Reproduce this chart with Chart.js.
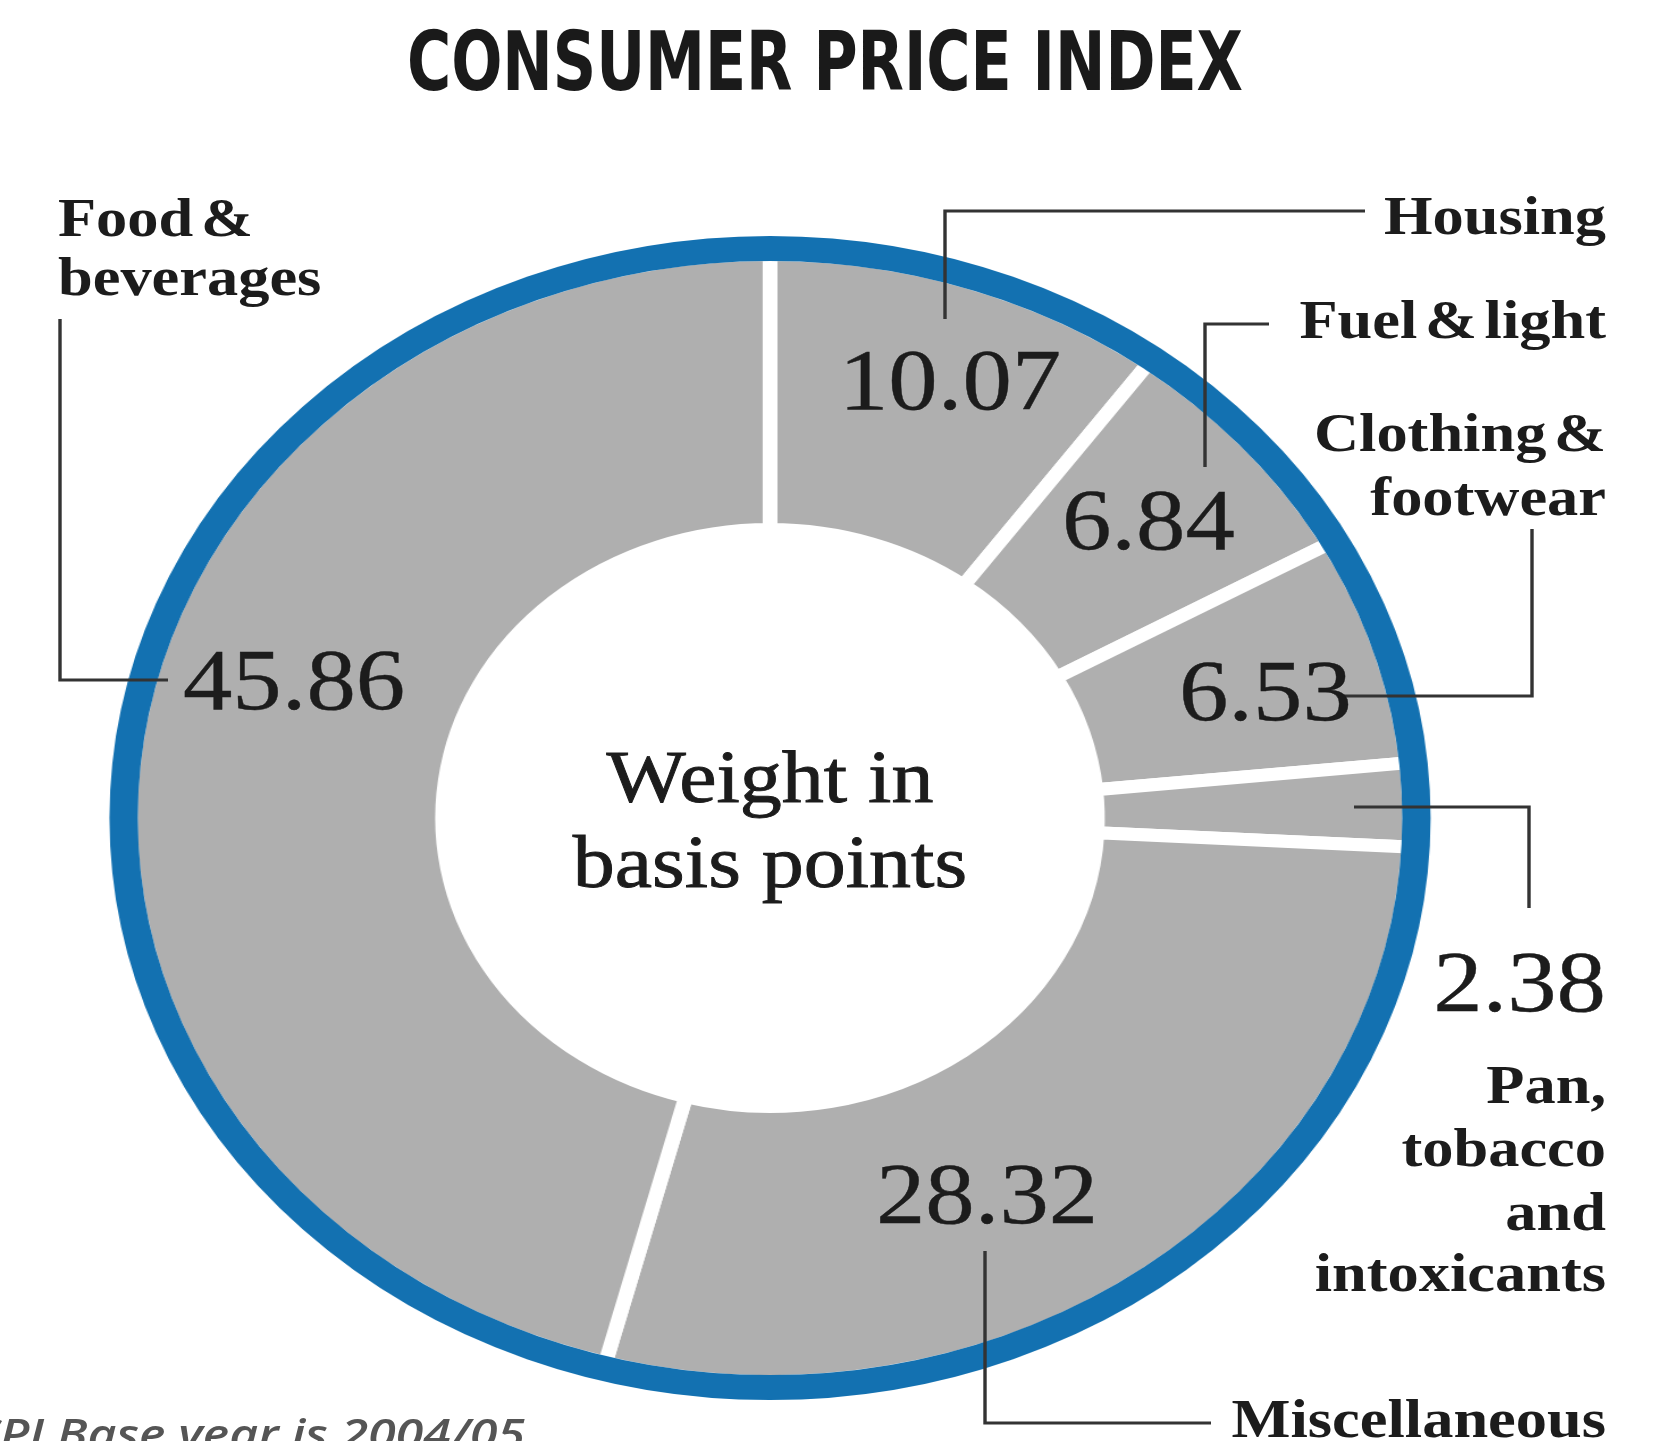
<!DOCTYPE html>
<html>
<head>
<meta charset="utf-8">
<script src="https://cdn.jsdelivr.net/npm/chart.js@4.4.0/dist/chart.umd.min.js"></script>
<style>
  html, body { margin:0; padding:0; background:#ffffff; width:1665px; height:1441px; overflow:hidden; }
  #wrap { position:absolute; left:0; top:0; height:1441px; transform-origin:0 0; }
  #c { position:absolute; left:0; top:0; }
  #ov { position:absolute; left:0; top:0; overflow:visible; }
</style>
</head>
<body>
<div id="wrap"><canvas id="c"></canvas><svg id="ov" xmlns="http://www.w3.org/2000/svg"></svg></div>
<script>
// ---------------- data ----------------
const categories = ['Housing', 'Fuel & light', 'Clothing & footwear', 'Pan, tobacco and intoxicants', 'Miscellaneous', 'Food & beverages'];
const weights = [10.07, 6.84, 6.53, 2.38, 28.32, 45.86];
const categoryLines = [['Housing'], ['Fuel & light'], ['Clothing &', 'footwear'], ['Pan,', 'tobacco', 'and', 'intoxicants'], ['Miscellaneous'], ['Food &', 'beverages']];
const titleText = 'CONSUMER PRICE INDEX';
const centerLines = ['Weight in', 'basis points'];
const footnote = 'CPI Base year is 2004/05';

// ---------------- layout (page pixels) ----------------
const K = 1.135;                 // horizontal stretch of the original artwork
const H = 1441;
const W = Math.round(1665 / K);
const CX = 770, CY = 818;        // doughnut centre
const R_GRAY = 557, R_HOLE = 295, RING_W = 25, GAP = 13;
const BLUE = '#1371b1', GRAY = '#afafaf', INK = '#1c1c1c', LINE = '#333333';

const valuePos = [
  {x: 839, y: 409, anchor: 'start'},
  {x: 1062, y: 549, anchor: 'start'},
  {x: 1179, y: 720, anchor: 'start'},
  {x: 1606, y: 1011, anchor: 'end'},
  {x: 876, y: 1223, anchor: 'start'},
  {x: 183, y: 709, anchor: 'start'}
];
const namePos = [
  {x: 1606, y: [234], anchor: 'end'},
  {x: 1606, y: [338], anchor: 'end'},
  {x: 1606, y: [451, 515], anchor: 'end'},
  {x: 1606, y: [1103, 1166, 1230, 1291], anchor: 'end'},
  {x: 1606, y: [1437], anchor: 'end'},
  {x: 58, y: [236, 295], anchor: 'start'}
];
const leaders = [
  [[945, 319], [945, 211], [1365, 211]],
  [[1205, 467], [1205, 324], [1269, 324]],
  [[1532, 529], [1532, 696], [1343, 696]],
  [[1354, 807], [1529, 807], [1529, 908]],
  [[985, 1251], [985, 1423], [1211, 1423]],
  [[60, 319], [60, 680], [168, 680]]
];

// ---------------- setup ----------------
const wrap = document.getElementById('wrap');
wrap.style.width = W + 'px';
wrap.style.transform = 'scaleX(' + K + ')';
const canvas = document.getElementById('c');
canvas.width = W; canvas.height = H;
canvas.style.width = W + 'px'; canvas.style.height = H + 'px';

const cxU = CX / K;
const ringPlugin = {
  id: 'blueRing',
  afterDatasetsDraw(chart) {
    const arc = chart.getDatasetMeta(0).data[0];
    const ctx = chart.ctx;
    const rVisible = arc.outerRadius - GAP / 2;
    ctx.save();
    ctx.beginPath();
    ctx.arc(arc.x, arc.y, rVisible + RING_W / 2, 0, Math.PI * 2);
    ctx.lineWidth = RING_W;
    ctx.strokeStyle = BLUE;
    ctx.stroke();
    ctx.restore();
  }
};

const outerR = R_GRAY + GAP / 2;
const innerR = R_HOLE - GAP / 2;
new Chart(canvas.getContext('2d'), {
  type: 'doughnut',
  data: {
    labels: categories,
    datasets: [{
      data: weights,
      backgroundColor: GRAY,
      borderColor: '#ffffff',
      borderWidth: GAP,
      borderAlign: 'center',
      hoverOffset: 0
    }]
  },
  options: {
    responsive: false,
    animation: false,
    devicePixelRatio: 1,
    events: [],
    rotation: 0,
    radius: outerR,
    cutout: (innerR / outerR * 100) + '%',
    layout: { padding: { left: 0, right: W - 2 * cxU, top: 2 * CY - H, bottom: 0 } },
    plugins: { legend: { display: false }, tooltip: { enabled: false } }
  },
  plugins: [ringPlugin]
});

// ---------------- overlay text and leader lines ----------------
const NS = 'http://www.w3.org/2000/svg';
const svg = document.getElementById('ov');
svg.setAttribute('width', W); svg.setAttribute('height', H);

function addText(str, xFull, y, attrs) {
  const t = document.createElementNS(NS, 'text');
  t.setAttribute('x', xFull / K);
  t.setAttribute('y', y);
  for (const k in attrs) t.setAttribute(k, attrs[k]);
  t.textContent = str;
  svg.appendChild(t);
  return t;
}

const serif = "'Liberation Serif', 'Times New Roman', serif";

leaders.forEach(pts => {
  const p = document.createElementNS(NS, 'polyline');
  p.setAttribute('points', pts.map(q => (q[0] / K) + ',' + q[1]).join(' '));
  p.setAttribute('fill', 'none');
  p.setAttribute('stroke', LINE);
  p.setAttribute('stroke-width', 3);
  p.setAttribute('vector-effect', 'non-scaling-stroke');
  svg.appendChild(p);
});

addText(titleText, 825, 90, {
  'text-anchor': 'middle', 'font-family': "'DejaVu Sans Condensed', 'DejaVu Sans', sans-serif",
  'font-weight': 'bold', 'font-size': 82, 'font-stretch': 'condensed', fill: '#1a1a1a',
  textLength: 836 / K, lengthAdjust: 'spacingAndGlyphs'
});

const centreAttrs = {'text-anchor': 'middle', 'font-family': serif, 'font-size': 74, fill: INK,
  stroke: INK, 'stroke-width': 0.9};
addText(centerLines[0], CX, 802, centreAttrs);
addText(centerLines[1], CX, 887, centreAttrs);

weights.forEach((v, i) => {
  const vp = valuePos[i];
  addText(v.toFixed(2), vp.x, vp.y, {'text-anchor': vp.anchor, 'font-family': serif, 'font-size': 87, fill: INK,
    stroke: INK, 'stroke-width': 0.4});
  const np = namePos[i];
  categoryLines[i].forEach((line, j) => {
    addText(line, np.x, np.y[j], {'text-anchor': np.anchor, 'font-family': serif, 'font-weight': 'bold',
      'font-size': 55, 'word-spacing': -7, fill: INK});
  });
});

addText(footnote, 525, 1449, {'text-anchor': 'end', 'font-family': "'Open Sans', 'DejaVu Sans', sans-serif",
  'font-style': 'italic', 'font-weight': 600, 'font-size': 42, fill: '#555555',
  textLength: 555 / K, lengthAdjust: 'spacingAndGlyphs'});
</script>
</body>
</html>
